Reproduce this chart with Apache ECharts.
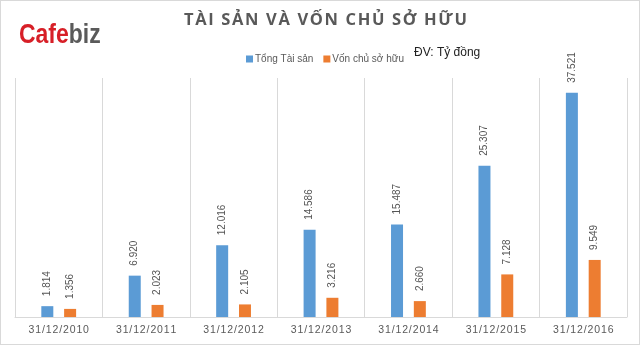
<!DOCTYPE html>
<html>
<head>
<meta charset="utf-8">
<script src="https://cdn.jsdelivr.net/npm/echarts@6/dist/echarts.min.js"></script>
<style>
  html, body { margin: 0; padding: 0; background: #fff; }
  #chart { width: 640px; height: 345px; box-sizing: border-box; border: 1px solid #d9d9d9; }
</style>
</head>
<body>
<div id="chart"></div>
<script>
// Balance dates and values (billion VND)
const dates = ['31/12/2010', '31/12/2011', '31/12/2012', '31/12/2013', '31/12/2014', '31/12/2015', '31/12/2016'];
const totalAssets = [1814, 6920, 12016, 14586, 15487, 25307, 37521];
const ownerEquity = [1356, 2023, 2105, 3216, 2660, 7128, 9549];
const seriesNames = ['Tổng Tài sản', 'Vốn chủ sở hữu'];

const spaced = (s, sp) => s.split('').join(sp);
const fmt = v => String(v).replace(/\B(?=(\d{3})+(?!\d))/g, '.');

const chart = echarts.init(document.getElementById('chart'), null, { renderer: 'canvas' });

const labelStyle = {
  show: true,
  position: 'top',
  rotate: 90,
  align: 'left',
  verticalAlign: 'middle',
  distance: 10,
  color: '#555',
  fontSize: 10,
  fontFamily: 'Liberation Sans, Arial, sans-serif',
  formatter: p => fmt(p.value)
};

chart.setOption({
  animation: false,
  textStyle: { fontFamily: 'Liberation Sans, Arial, sans-serif' },
  graphic: [
    {
      type: 'text', x: 18, y: 20, scaleX: 0.82,
      style: {
        text: '{r|Cafe}{g|biz}',
        rich: {
          r: { fill: '#d71f27', fontSize: 28, fontWeight: 'bold', fontFamily: 'Liberation Sans Narrow, Liberation Sans, sans-serif' },
          g: { fill: '#5a5a5a', fontSize: 28, fontWeight: 'bold', fontFamily: 'Liberation Sans Narrow, Liberation Sans, sans-serif' }
        }
      }
    },
    {
      type: 'text', left: 183, top: 11,
      style: {
        text: spaced('TÀI SẢN VÀ VỐN CHỦ SỞ HỮU', '\u200a'),
        fill: '#595959', fontSize: 16.5, fontWeight: 'bold',
        fontFamily: 'Open Sans, Liberation Sans, sans-serif'
      }
    },
    {
      type: 'text', left: 413, top: 46,
      style: {
        text: 'ĐV: Tỷ đồng', fill: '#222', fontSize: 12,
        fontFamily: 'Liberation Sans, Arial, sans-serif'
      }
    }
  ],
  legend: {
    data: seriesNames,
    left: 240, top: 48,
    itemWidth: 7, itemHeight: 7, itemGap: 10,
    icon: 'rect',
    textStyle: { color: '#595959', fontSize: 10, padding: [0, 0, 0, -3] }
  },
  grid: { left: 14, right: 12, top: 77, bottom: 27, containLabel: false },
  xAxis: {
    type: 'category',
    data: dates,
    axisLine: { lineStyle: { color: '#d9d9d9' } },
    axisTick: { show: false },
    splitLine: { show: true, interval: 0, lineStyle: { color: '#d9d9d9', width: 1 } },
    axisLabel: {
      interval: 0,
      color: '#595959', fontSize: 10.5, margin: 8,
      formatter: v => spaced(v, '\u200a')
    }
  },
  yAxis: {
    type: 'value', min: 0, max: 40000,
    show: false,
    splitLine: { show: false }
  },
  series: [
    {
      name: seriesNames[0], type: 'bar', data: totalAssets,
      barWidth: 12, barGap: '90%',
      itemStyle: { color: '#5b9bd5' },
      label: labelStyle
    },
    {
      name: seriesNames[1], type: 'bar', data: ownerEquity,
      barWidth: 12,
      itemStyle: { color: '#ed7d31' },
      label: labelStyle
    }
  ]
});
</script>
</body>
</html>
